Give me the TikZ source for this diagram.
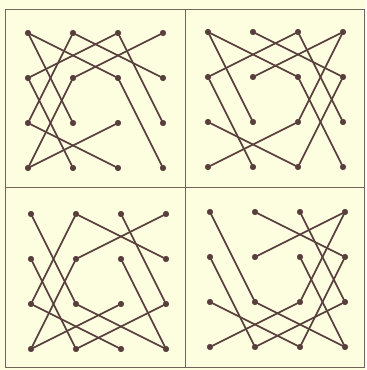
\documentclass[tikz,border=0pt]{standalone}
\usepackage{tikz}
\definecolor{paper}{RGB}{253,253,224}
\definecolor{ink}{RGB}{88,62,60}
\definecolor{rulegray}{RGB}{115,100,90}
\tikzset{
  peg/.style={circle,fill=ink,draw=ink,inner sep=0pt,minimum size=4.8pt},
  jump/.style={draw=ink,line width=1.5pt,line cap=round},
  frame/.style={draw=rulegray,line width=0.8pt}
}

\begin{document}
\begin{tikzpicture}[x=0.03cm,y=-0.03cm]
\fill[paper] (0,0) rectangle (366,370);
\useasboundingbox (0,0) rectangle (366,370);
\draw[frame] (5,9) rectangle (364,367);
\draw[frame] (185,9) -- (185,367);
\draw[frame] (5,187) -- (364,187);
% pegs of the four panels
\foreach \pan/\x/\y in {1/28/33,2/208/32,3/31/214,4/210/212}
  \foreach \row in {1,...,4}
    \foreach \col in {1,...,4}
      \node[peg] (q\pan r\row c\col) at ({\x+45*(\col-1)},{\y+45*(\row-1)}) {};
% panel 1
\draw[jump] (q1r3c2) -- (q1r1c1) -- (q1r2c3) -- (q1r4c4);
\draw[jump] (q1r2c4) -- (q1r1c2) -- (q1r3c1) -- (q1r4c3);
\draw[jump] (q1r3c4) -- (q1r1c3) -- (q1r2c1) -- (q1r4c2);
\draw[jump] (q1r1c4) -- (q1r2c2) -- (q1r4c1) -- (q1r3c3);
% panel 2
\draw[jump] (q2r3c2) -- (q2r1c1) -- (q2r2c3) -- (q2r4c4);
\draw[jump] (q2r1c2) -- (q2r2c4) -- (q2r4c3) -- (q2r3c1);
\draw[jump] (q2r3c4) -- (q2r1c3) -- (q2r2c1) -- (q2r4c2);
\draw[jump] (q2r2c2) -- (q2r1c4) -- (q2r3c3) -- (q2r4c1);
% panel 3
\draw[jump] (q3r1c1) -- (q3r3c2) -- (q3r4c4) -- (q3r2c3);
\draw[jump] (q3r2c4) -- (q3r1c2) -- (q3r3c1) -- (q3r4c3);
\draw[jump] (q3r1c3) -- (q3r3c4) -- (q3r4c2) -- (q3r2c1);
\draw[jump] (q3r1c4) -- (q3r2c2) -- (q3r4c1) -- (q3r3c3);
% panel 4
\draw[jump] (q4r1c1) -- (q4r3c2) -- (q4r4c4) -- (q4r2c3);
\draw[jump] (q4r1c2) -- (q4r2c4) -- (q4r4c3) -- (q4r3c1);
\draw[jump] (q4r1c3) -- (q4r3c4) -- (q4r4c2) -- (q4r2c1);
\draw[jump] (q4r2c2) -- (q4r1c4) -- (q4r3c3) -- (q4r4c1);
\end{tikzpicture}
\end{document}
